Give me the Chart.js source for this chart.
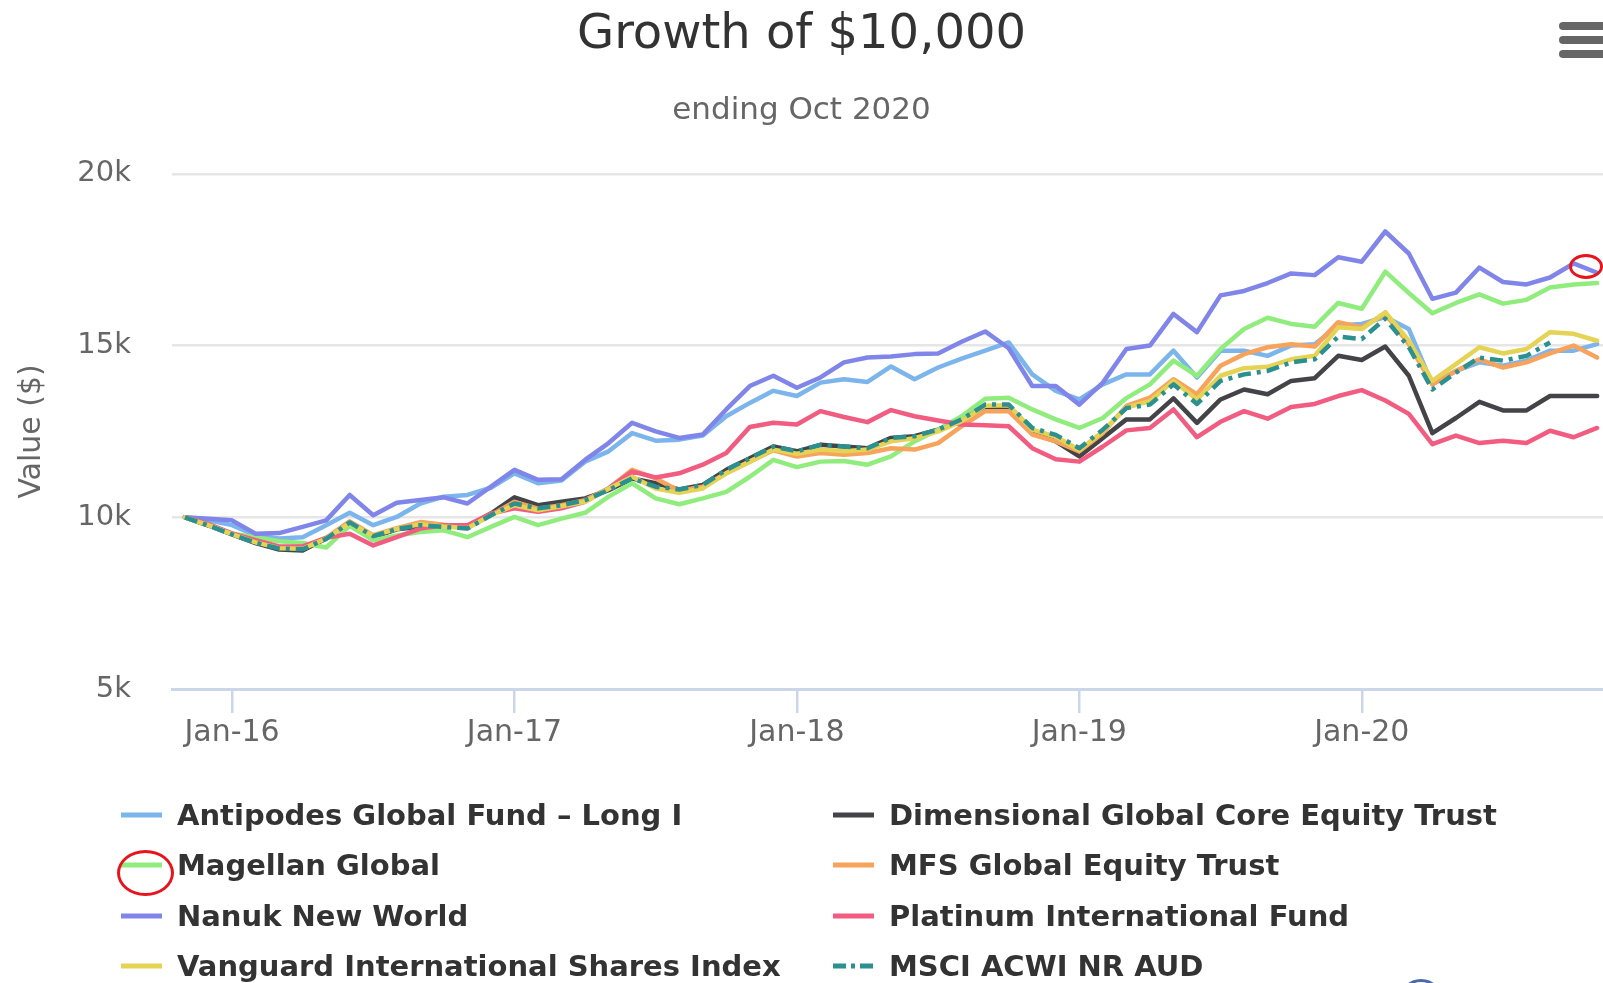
<!DOCTYPE html>
<html><head><meta charset="utf-8">
<script src="https://cdn.jsdelivr.net/npm/chart.js@4.4.0/dist/chart.umd.min.js"></script>
<style>
html,body{margin:0;padding:0;background:#fff;overflow:hidden;}
#wrap{position:relative;width:1603px;height:983px;overflow:hidden;}
#c{position:absolute;left:0;top:0;}
.leg{position:absolute;height:40px;display:flex;align-items:center;font:bold 29px "DejaVu Sans";color:#333;white-space:nowrap;}
.leg svg{margin-right:15px;flex:none;}
.bar{position:absolute;left:1559px;width:60px;height:8px;border-radius:4px;background:#666;}
.ring{position:absolute;border:3.5px solid #e8141c;border-radius:50%;box-sizing:border-box;}
</style></head>
<body><div id="wrap"><canvas id="c" width="1603" height="983"></canvas></div>
<script>
const months = ["Oct-15","Nov-15","Dec-15","Jan-16","Feb-16","Mar-16","Apr-16","May-16","Jun-16","Jul-16","Aug-16","Sep-16","Oct-16","Nov-16","Dec-16",
"Jan-17","Feb-17","Mar-17","Apr-17","May-17","Jun-17","Jul-17","Aug-17","Sep-17","Oct-17","Nov-17","Dec-17",
"Jan-18","Feb-18","Mar-18","Apr-18","May-18","Jun-18","Jul-18","Aug-18","Sep-18","Oct-18","Nov-18","Dec-18",
"Jan-19","Feb-19","Mar-19","Apr-19","May-19","Jun-19","Jul-19","Aug-19","Sep-19","Oct-19","Nov-19","Dec-19",
"Jan-20","Feb-20","Mar-20","Apr-20","May-20","Jun-20","Jul-20","Aug-20","Sep-20","Oct-20"];
// axis tick labels placed at the month-end closest to each 1 January
const xTickIdx = [2,14,26,38,50];
const xTickLabels = ["Jan-16","Jan-17","Jan-18","Jan-19","Jan-20"];
const yTicks = [5000,10000,15000,20000];
const yTickLabels = ["5k","10k","15k","20k"];

const seriesNames = ["Antipodes Global Fund - Long I","Dimensional Global Core Equity Trust","Magellan Global","MFS Global Equity Trust","Nanuk New World","Platinum International Fund","Vanguard International Shares Index","MSCI ACWI NR AUD"];

const antipodes = [10000,9910,9770,9470,9380,9420,9770,10130,9770,10010,10400,10600,10650,10860,11280,10990,11070,11620,11920,12450,12230,12260,12380,12940,13330,13680,13530,13920,14020,13940,14390,14020,14360,14620,14850,15090,14160,13680,13430,13870,14160,14160,14850,14070,14850,14850,14700,15000,15040,15580,15630,15830,15480,13870,14260,14510,14410,14560,14850,14850,15040];
const dimensional = [10000,9760,9500,9250,9060,9030,9380,9860,9420,9650,9720,9770,9720,10110,10580,10350,10450,10550,10790,11130,10990,10810,10940,11380,11720,12060,11920,12110,12060,12010,12310,12360,12550,12850,13220,13220,12450,12210,11770,12310,12850,12850,13460,12750,13430,13720,13580,13970,14050,14700,14580,14970,14120,12450,12890,13360,13110,13110,13530,13530,13530];
const magellan = [10000,9770,9520,9420,9300,9250,9120,9750,9330,9470,9570,9620,9420,9720,10010,9770,9960,10130,10600,10990,10550,10380,10550,10740,11180,11670,11460,11620,11640,11530,11770,12210,12550,12940,13450,13480,13140,12850,12600,12890,13470,13870,14560,14120,14900,15480,15810,15630,15550,16240,16070,17150,16530,15940,16240,16490,16220,16330,16690,16780,16820];
const mfs = [10000,9780,9520,9280,9120,9100,9400,9880,9480,9680,9860,9780,9720,10060,10450,10250,10350,10500,10840,11380,11130,10770,10890,11280,11620,11950,11770,11870,11820,11870,12010,11970,12160,12650,13090,13090,12410,12210,11920,12450,13240,13480,14020,13580,14410,14750,14950,15040,14970,15680,15530,15920,15040,13870,14260,14600,14360,14510,14770,15000,14650];
const nanuk = [10000,9960,9910,9520,9540,9720,9910,10650,10060,10420,10500,10580,10400,10890,11380,11090,11110,11670,12160,12750,12500,12310,12410,13140,13820,14120,13770,14070,14510,14650,14680,14750,14770,15110,15410,14920,13820,13820,13280,13920,14900,15000,15920,15390,16460,16590,16820,17100,17050,17570,17440,18320,17680,16360,16540,17270,16850,16780,16980,17390,17120];
const platinum = [10000,9800,9530,9330,9150,9150,9400,9520,9180,9420,9670,9770,9770,10110,10260,10160,10260,10450,10840,11330,11160,11280,11530,11870,12630,12750,12700,13090,12920,12770,13120,12940,12820,12700,12680,12650,12010,11690,11620,12060,12530,12600,13140,12330,12780,13090,12870,13210,13300,13530,13700,13400,13010,12130,12380,12160,12230,12160,12520,12330,12600];
const vanguard = [10000,9770,9510,9270,9100,9080,9380,9830,9460,9660,9800,9730,9680,10060,10350,10200,10320,10450,10830,11180,10840,10710,10840,11280,11620,11970,11850,11970,11920,11970,12210,12300,12500,12800,13250,13260,12550,12350,11960,12500,13190,13380,13970,13430,14120,14340,14380,14600,14700,15530,15480,15970,15140,13970,14460,14950,14770,14900,15390,15340,15140];
const msci = [10000,9760,9500,9260,9090,9070,9370,9850,9450,9660,9770,9720,9670,10060,10400,10260,10350,10500,10790,11130,10890,10810,10940,11380,11720,12060,11920,12110,12060,12010,12310,12360,12550,12850,13280,13280,12600,12400,12010,12550,13180,13280,13870,13300,13970,14160,14260,14510,14600,15260,15190,15780,14950,13720,14210,14650,14560,14700,15090,null,null];

const seriesValues = [antipodes,dimensional,magellan,mfs,nanuk,platinum,vanguard,msci];
const colors = ["#7cb5ec","#434348","#90ed7d","#f7a35c","#8085e9","#f15c80","#e4d354","#2b908f"];

Chart.defaults.font.family = "'DejaVu Sans'";

const datasets = seriesValues.map((vals, k) => ({
  label: seriesNames[k],
  data: vals.map((v, i) => ({x: i, y: v})),
  borderColor: colors[k],
  backgroundColor: colors[k],
  borderWidth: 4.5,
  pointRadius: 0,
  tension: 0,
  fill: false,
  spanGaps: false,
  borderJoinStyle: 'round',
  borderCapStyle: k === 7 ? 'butt' : 'round',
  borderDash: k === 7 ? [13, 6, 4, 6] : [],
  order: 8 - k
}));

new Chart(document.getElementById('c'), {
  type: 'line',
  data: {datasets},
  options: {
    responsive: false,
    animation: false,
    events: [],
    layout: {padding: {left: 0, right: 0, top: 0, bottom: 234}},
    plugins: {
      legend: {display: false},
      tooltip: {enabled: false},
      title: {display: true, text: 'Growth of $10,000', color: '#333333',
        font: {size: 48, weight: 'normal', lineHeight: 1.2}, padding: {top: 7, bottom: 0}},
      subtitle: {display: true, text: 'ending Oct 2020', color: '#666666',
        font: {size: 31, weight: 'normal', lineHeight: 1.2}, padding: {top: 28, bottom: 44}}
    },
    scales: {
      x: {
        type: 'linear', min: -0.55, max: 60.25,
        afterBuildTicks: s => { s.ticks = xTickIdx.map(v => ({value: v})); },
        afterFit: s => { s.height = 60; },
        grid: {drawOnChartArea: false, drawTicks: true, tickLength: 24, color: '#ccd6eb', lineWidth: 2.5},
        border: {display: true, color: '#ccd6eb', width: 3},
        ticks: {autoSkip: false, maxRotation: 0, padding: 2, color: '#666666', font: {size: 30},
          callback: (v) => { const j = xTickIdx.indexOf(v); return j >= 0 ? xTickLabels[j] : ''; }}
      },
      y: {
        min: 5000, max: 20000,
        afterBuildTicks: s => { s.ticks = yTicks.map(v => ({value: v})); },
        afterFit: s => { s.width = 172; },
        grid: {color: '#e6e6e6', lineWidth: 2.5, drawTicks: false},
        border: {display: false},
        ticks: {padding: 41, color: '#666666', font: {size: 29},
          callback: (v) => { const j = yTicks.indexOf(v); return j >= 0 ? yTickLabels[j] : ''; }},
        title: {display: true, text: 'Value ($)', color: '#666666', font: {size: 30, lineHeight: 1.2}, padding: {top: 14, bottom: 0}}
      }
    }
  }
});

// HTML legend, two columns
const wrap = document.getElementById('wrap');
const legCols = [121, 833];
const legRows = [815, 865, 916, 966];
seriesNames.forEach((name, k) => {
  const d = document.createElement('div');
  d.className = 'leg';
  d.style.left = legCols[k % 2] + 'px';
  d.style.top = (legRows[Math.floor(k / 2)] - 20) + 'px';
  const dash = k === 7 ? 'stroke-dasharray="13 5 4 5"' : '';
  d.innerHTML = '<svg width="41" height="8"><line x1="0" y1="4" x2="41" y2="4" stroke="' + colors[k] + '" stroke-width="5" ' + dash + '/></svg>';
  const t = document.createElement('span');
  t.textContent = name.replace(' - ', ' \u2013 ');
  d.appendChild(t);
  wrap.appendChild(d);
});
// export menu icon
[26, 40, 54].forEach(y => { const b = document.createElement('div'); b.className = 'bar'; b.style.top = (y - 4) + 'px'; wrap.appendChild(b); });
// red highlight rings
[[1569, 254, 34, 25], [117, 850, 57, 46]].forEach(r => {
  const e = document.createElement('div'); e.className = 'ring';
  e.style.left = r[0] + 'px'; e.style.top = r[1] + 'px'; e.style.width = r[2] + 'px'; e.style.height = r[3] + 'px';
  wrap.appendChild(e);
});
const arc = document.createElement('div'); arc.className = 'ring';
arc.style.cssText = 'left:1399px;top:979px;width:44px;height:44px;border-color:#4a6aa8;';
wrap.appendChild(arc);
</script></body></html>
